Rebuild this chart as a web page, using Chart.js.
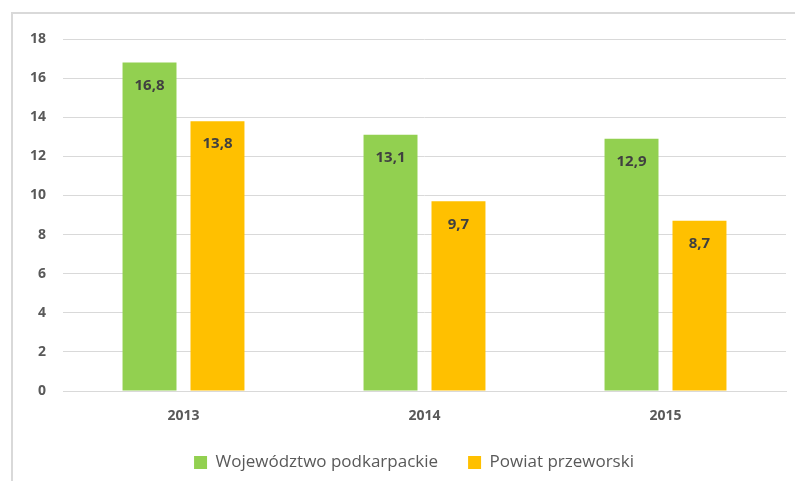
<!DOCTYPE html>
<html>
<head>
<meta charset="utf-8">
<script src="https://cdn.jsdelivr.net/npm/chart.js@4"></script>
<style>
  html, body { margin: 0; padding: 0; background: #fff; }
  #wrap { position: relative; width: 795px; height: 481px; }
  #frame { position: absolute; left: 11px; top: 12px; right: 0; bottom: 0;
           border-top: 2px solid #d9d9d9; border-left: 2px solid #d9d9d9; }
  canvas { position: absolute; left: 0; top: 0; }
</style>
</head>
<body>
<div id="wrap">
  <div id="frame"></div>
  <canvas id="chart" width="795" height="481"></canvas>
</div>
<script>
// dane
const lata = ['2013', '2014', '2015'];
const wojewodztwo = [16.8, 13.1, 12.9];
const powiat = [13.8, 9.7, 8.7];
const osY = [0, 2, 4, 6, 8, 10, 12, 14, 16, 18];

const FONT = '"Open Sans", sans-serif';

// etykiety wartości wewnątrz słupków
const etykiety = {
    id: 'etykiety',
    afterDatasetsDraw(chart) {
        const ctx = chart.ctx;
        ctx.save();
        ctx.font = 'bold 15px ' + FONT;
        ctx.fillStyle = '#404040';
        ctx.textAlign = 'center';
        ctx.textBaseline = 'middle';
        chart.data.datasets.forEach((ds, i) => {
            chart.getDatasetMeta(i).data.forEach((bar, j) => {
                const txt = ds.data[j].toFixed(1).replace('.', ',');
                ctx.fillText(txt, bar.x, bar.y + 23);
            });
        });
        ctx.restore();
    }
};

// legenda w Excelu jest wycentrowana nad obszarem wykresu, nie całym płótnem
const przesunLegende = {
    id: 'przesunLegende',
    afterLayout(chart) { chart.legend.left = 42; }
};

new Chart(document.getElementById('chart'), {
    type: 'bar',
    data: {
        labels: lata,
        datasets: [
            { label: 'Województwo podkarpackie', data: wojewodztwo, backgroundColor: '#92D050' },
            { label: 'Powiat przeworski', data: powiat, backgroundColor: '#FFC000' }
        ]
    },
    options: {
        responsive: false,
        animation: false,
        layout: { padding: { top: 39, right: 9, bottom: 0, left: 0 } },
        datasets: { bar: { categoryPercentage: 0.564, barPercentage: 0.794 } },
        plugins: {
            legend: {
                position: 'bottom',
                labels: {
                    boxWidth: 13, boxHeight: 13, padding: 30,
                    color: '#595959',
                    font: { family: FONT, size: 17 }
                }
            },
            tooltip: { enabled: false }
        },
        scales: {
            x: {
                grid: { display: false, drawTicks: false },
                border: { color: '#d9d9d9', width: 1 },
                ticks: { color: '#595959', padding: 17, autoSkip: false, font: { family: FONT, size: 14, weight: 'bold' } },
                afterFit(axis) { axis.height = 33; }
            },
            y: {
                min: 0, max: 18,
                afterBuildTicks(axis) { axis.ticks = osY.map(v => ({ value: v })); },
                grid: { color: '#d9d9d9', lineWidth: 1, drawTicks: false },
                border: { display: false },
                ticks: { color: '#595959', padding: 17, font: { family: FONT, size: 14, weight: 'bold' } },
                afterFit(axis) { axis.width = 63; }
            }
        }
    },
    plugins: [etykiety, przesunLegende]
});
</script>
</body>
</html>
